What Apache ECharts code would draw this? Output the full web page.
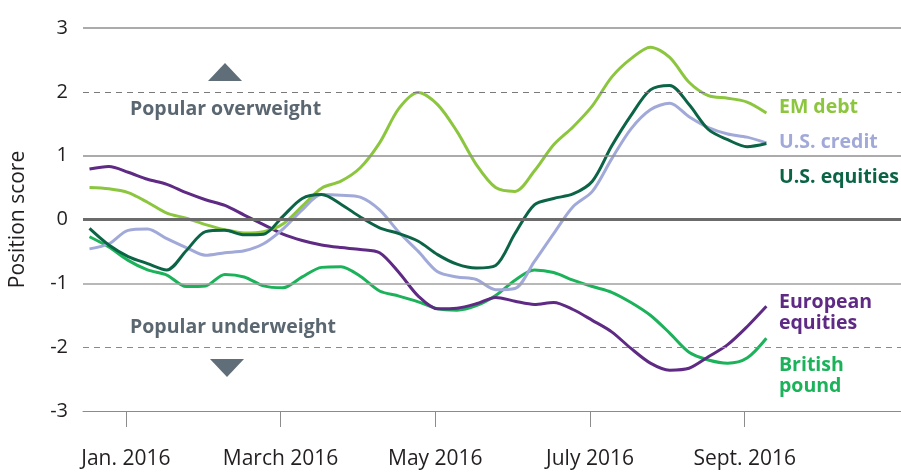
<!DOCTYPE html>
<html>
<head>
<meta charset="utf-8">
<script src="https://cdn.jsdelivr.net/npm/echarts@6/dist/echarts.min.js"></script>
<style>
  html, body { margin: 0; padding: 0; background: #fff; }
  #chart { width: 901px; height: 472px; }
</style>
</head>
<body>
<div id="chart"></div>
<script>
// x is months from Jan. 1 2016, one sample roughly every week
const START = -0.47;
const STEP = 0.25;

const tickMonths = [0, 2, 4, 6, 8];
const tickLabels = ['Jan. 2016', 'March 2016', 'May 2016', 'July 2016', 'Sept. 2016'];

const emDebt = [0.50, 0.48, 0.42, 0.27, 0.10, 0.02, -0.08, -0.16, -0.21, -0.19, -0.07, 0.21, 0.49, 0.60, 0.81, 1.20, 1.74, 1.99, 1.80, 1.38, 0.86, 0.50, 0.44, 0.76, 1.17, 1.45, 1.78, 2.23, 2.52, 2.70, 2.54, 2.15, 1.94, 1.90, 1.84, 1.67];
const usCredit = [-0.46, -0.38, -0.17, -0.15, -0.30, -0.44, -0.56, -0.52, -0.49, -0.38, -0.15, 0.15, 0.39, 0.38, 0.35, 0.15, -0.20, -0.50, -0.82, -0.90, -0.94, -1.10, -1.08, -0.66, -0.22, 0.20, 0.44, 0.95, 1.42, 1.72, 1.82, 1.61, 1.44, 1.34, 1.29, 1.20];
const usEquities = [-0.14, -0.40, -0.58, -0.69, -0.79, -0.49, -0.19, -0.17, -0.24, -0.23, 0.05, 0.33, 0.39, 0.24, 0.04, -0.13, -0.22, -0.34, -0.55, -0.70, -0.76, -0.72, -0.22, 0.23, 0.33, 0.40, 0.60, 1.15, 1.63, 2.03, 2.10, 1.80, 1.41, 1.25, 1.14, 1.19];
const euroEquities = [0.79, 0.83, 0.74, 0.63, 0.55, 0.42, 0.31, 0.22, 0.07, -0.08, -0.23, -0.33, -0.40, -0.44, -0.47, -0.52, -0.83, -1.20, -1.40, -1.39, -1.32, -1.22, -1.28, -1.33, -1.30, -1.41, -1.58, -1.76, -2.02, -2.25, -2.36, -2.33, -2.15, -1.96, -1.68, -1.36];
const britishPound = [-0.27, -0.43, -0.64, -0.79, -0.87, -1.05, -1.04, -0.86, -0.90, -1.04, -1.07, -0.90, -0.75, -0.74, -0.89, -1.12, -1.20, -1.29, -1.40, -1.42, -1.35, -1.19, -0.95, -0.79, -0.83, -0.95, -1.05, -1.14, -1.30, -1.50, -1.78, -2.08, -2.20, -2.25, -2.17, -1.86];

const colors = {
  em: '#8cc63f',
  credit: '#a1a9d9',
  equities: '#0c6446',
  euro: '#5e2a84',
  pound: '#1bb25a'
};

const toPoints = vals => vals.map((v, i) => [START + i * STEP, v]);

const chart = echarts.init(document.getElementById('chart'), null, { renderer: 'canvas' });

const FONT = '"Open Sans"';
const labelGray = '#5a6771';

const line = (name, vals, color) => ({
  name: name,
  type: 'line',
  data: toPoints(vals),
  smooth: 0.3,
  showSymbol: false,
  lineStyle: { color: color, width: 3 },
  itemStyle: { color: color },
  z: 3
});

const option = {
  animation: false,
  grid: { left: 80, right: 0, top: 28, bottom: 61 },
  xAxis: {
    type: 'value',
    min: -0.554,
    max: 10.02,
    splitLine: { show: false },
    axisLine: { onZero: false, lineStyle: { color: '#8c8c8c', width: 1 } },
    axisTick: {
      customValues: tickMonths,
      length: 16,
      lineStyle: { color: '#8c8c8c', width: 1 }
    },
    axisLabel: {
      customValues: tickMonths,
      margin: 38,
      color: '#231f20',
      fontFamily: 'Open Sans',
      fontSize: 21,
      formatter: v => tickLabels[tickMonths.indexOf(Math.round(v))] || ''
    }
  },
  yAxis: {
    type: 'value',
    min: -3,
    max: 3,
    interval: 1,
    name: 'Position score',
    nameLocation: 'middle',
    nameGap: 54,
    nameRotate: 90,
    nameTextStyle: { color: '#231f20', fontFamily: 'Open Sans', fontSize: 21 },
    splitLine: { show: false },
    axisLine: { show: false },
    axisTick: { show: false },
    axisLabel: { color: '#231f20', fontFamily: 'Open Sans', fontSize: 20, margin: 15 }
  },
  series: [
    {
      type: 'line',
      data: [],
      silent: true,
      z: 1,
      markLine: {
        silent: true,
        symbol: 'none',
        label: { show: false },
        animation: false,
        data: [
          { yAxis: 3, lineStyle: { color: '#8f8f8f', width: 1.5, type: 'solid' } },
          { yAxis: 1, lineStyle: { color: '#8f8f8f', width: 1.5, type: 'solid' } },
          { yAxis: -1, lineStyle: { color: '#a0a0a0', width: 1.5, type: 'solid' } },
          { yAxis: 0, lineStyle: { color: '#6b6b6b', width: 3, type: 'solid' } },
          { yAxis: 2, lineStyle: { color: '#7a7a7a', width: 1, type: [6, 5] } },
          { yAxis: -2, lineStyle: { color: '#8a8a8a', width: 1, type: [6, 5] } }
        ]
      }
    },
    line('British pound', britishPound, colors.pound),
    line('European equities', euroEquities, colors.euro),
    line('U.S. credit', usCredit, colors.credit),
    line('EM debt', emDebt, colors.em),
    line('U.S. equities', usEquities, colors.equities)
  ],
  graphic: [
    { type: 'polygon', shape: { points: [[225, 63], [208, 81], [242, 81]] }, style: { fill: '#5f6e79' } },
    { type: 'polygon', shape: { points: [[210, 359], [244, 359], [227, 377]] }, style: { fill: '#5f6e79' } },
    { type: 'text', left: 130, top: 99, style: { text: 'Popular overweight', fill: labelGray, font: 'bold 19.5px ' + FONT } },
    { type: 'text', left: 130, top: 317, style: { text: 'Popular underweight', fill: labelGray, font: 'bold 19.5px ' + FONT } },
    { type: 'text', left: 779, top: 97, style: { text: 'EM debt', fill: colors.em, font: 'bold 19.5px ' + FONT } },
    { type: 'text', left: 779, top: 132, style: { text: 'U.S. credit', fill: colors.credit, font: 'bold 19.5px ' + FONT } },
    { type: 'text', left: 779, top: 167, style: { text: 'U.S. equities', fill: colors.equities, font: 'bold 19.5px ' + FONT } },
    { type: 'text', left: 779, top: 292, style: { text: 'European\nequities', fill: colors.euro, font: 'bold 19.5px ' + FONT, lineHeight: 21 } },
    { type: 'text', left: 779, top: 355, style: { text: 'British\npound', fill: colors.pound, font: 'bold 19.5px ' + FONT, lineHeight: 21 } }
  ]
};

chart.setOption(option);
</script>
</body>
</html>
